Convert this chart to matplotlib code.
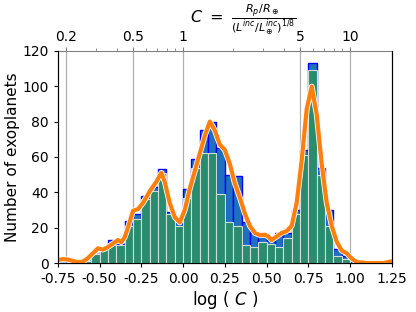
import matplotlib
matplotlib.use("Agg")
import matplotlib.pyplot as plt
import matplotlib.patheffects as pe
import numpy as np

# histogram bins of log(C), width 0.05 from -0.75 to 1.25
bin_left = np.round(np.arange(-0.75, 1.25, 0.05), 2)
counts_all = [0, 0, 0, 1, 5, 8, 13, 11, 24, 28,
              38, 43, 53, 29, 23, 42, 59, 75, 80, 65,
              50, 49, 23, 17, 15, 13, 17, 17, 30, 64,
              113, 54, 30, 8, 4, 1, 0, 0, 0, 0]
counts_sub = [0, 0, 0, 1, 5, 8, 10, 10, 21, 25,
              36, 41, 51, 28, 21, 37, 54, 62, 62, 39,
              23, 21, 10, 9, 12, 11, 9, 14, 28, 61,
              109, 50, 21, 4, 2, 0, 0, 0, 0, 0]

# smoothed density curve
kde_x = [-0.75, -0.72, -0.69, -0.66, -0.63, -0.60, -0.57, -0.54, -0.51, -0.48,
         -0.45, -0.42, -0.39, -0.37, -0.35, -0.33, -0.30, -0.27, -0.24, -0.20,
         -0.16, -0.13, -0.11, -0.08, -0.05, -0.02, 0.01, 0.04, 0.07, 0.10,
         0.13, 0.16, 0.19, 0.22, 0.25, 0.28, 0.31, 0.34, 0.37, 0.40,
         0.43, 0.46, 0.49, 0.51, 0.53, 0.56, 0.59, 0.62, 0.65, 0.68,
         0.71, 0.74, 0.77, 0.80, 0.83, 0.86, 0.89, 0.92, 0.95, 0.98,
         1.01, 1.04, 1.10, 1.20, 1.25]
kde_y = [1.8, 2.2, 2.0, 1.2, 0.5, 0.8, 2.8, 5.5, 8.3, 7.6,
         9.0, 11.0, 13.0, 11.8, 14.5, 20.0, 29.5, 30.5, 34.0, 40.5,
         46.0, 51.0, 46.0, 34.0, 26.0, 23.0, 30.0, 42.0, 52.0, 62.0,
         72.0, 80.0, 75.0, 67.0, 64.0, 56.0, 45.0, 37.0, 28.0, 21.0,
         17.0, 15.8, 16.0, 15.0, 13.0, 15.0, 17.0, 18.0, 21.0, 34.0,
         58.0, 87.0, 99.8, 84.0, 56.0, 34.0, 21.0, 12.0, 7.0, 5.5,
         2.5, 0.5, 0.0, 0.0, 1.0]

top_ticks = [0.2, 0.5, 1, 5, 10]
top_labels = ["0.2", "0.5", "1", "5", "10"]

fig = plt.figure(figsize=(4.16, 3.12), dpi=100)
ax = fig.add_axes([0.139, 0.157, 0.803, 0.680])
ax2 = ax.twiny()
ax2.set_zorder(0)
ax.set_zorder(1)
ax.patch.set_visible(False)

ax.bar(bin_left, counts_all, width=0.05, align='edge', color='#2070c0',
       edgecolor='#0000ff', linewidth=1.0)
ax.bar(bin_left, counts_sub, width=0.05, align='edge', color='#2a8c6f',
       edgecolor='#d0dcd6', linewidth=0.8)
ax.plot(kde_x, kde_y, color='#ff7f0e', lw=3.0, solid_joinstyle='round',
        path_effects=[pe.Stroke(linewidth=4.2, foreground='white'), pe.Normal()])

ax.set_xlim(-0.75, 1.25)
ax.set_ylim(0, 120)
ax.set_xticks(np.arange(-0.75, 1.26, 0.25))
ax.set_xticklabels(["%.2f" % v for v in np.arange(-0.75, 1.26, 0.25)])
ax.set_yticks(np.arange(0, 121, 20))
ax.tick_params(labelsize=10, length=3)
ax.set_xlabel("log ( $C$ )", fontsize=12, labelpad=2)
ax.set_ylabel("Number of exoplanets", fontsize=11, labelpad=2)
ax.spines['top'].set_visible(False)

ax2.set_xscale('log')
ax2.set_xlim(10 ** -0.75, 10 ** 1.25)
ax2.set_xticks(top_ticks)
ax2.set_xticklabels(top_labels)
ax2.tick_params(labelsize=10, length=3, color='gray', pad=2)
ax2.tick_params(which='minor', length=2, color='gray')
ax2.grid(True, which='major', color='#b0b0b0', lw=0.9)
ax2.spines['top'].set_color('gray')
ax2.set_xlabel(r'$C\ =\ \frac{R_p/R_\oplus}{(L^{inc}/L^{inc}_\oplus)^{1/8}}$',
               fontsize=11.5, labelpad=5)
ax2.xaxis.label.set_x(0.555)

plt.savefig('out.png', dpi=100)
